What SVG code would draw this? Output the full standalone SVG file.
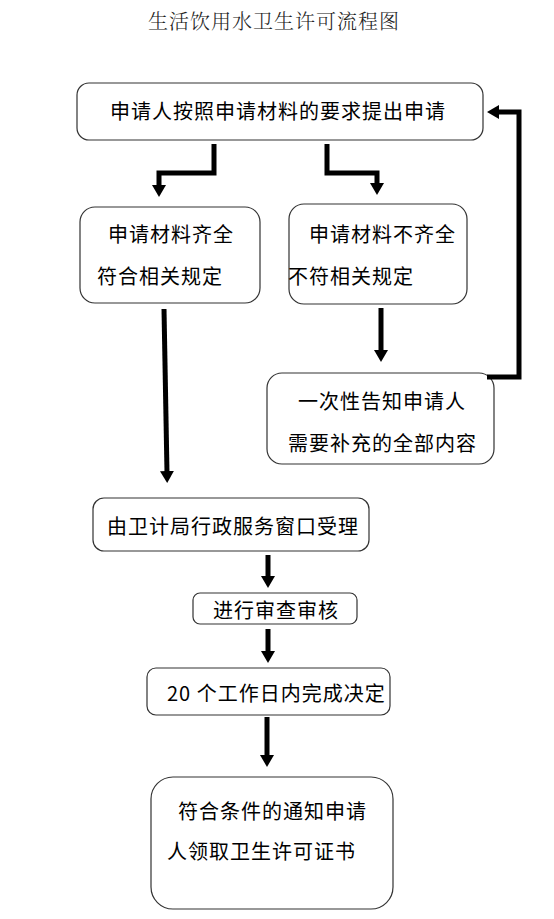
<svg xmlns="http://www.w3.org/2000/svg" width="554" height="919" viewBox="0 0 554 919">
<style>
.bg{fill:#fff}
.box{fill:#fff;stroke:#333;stroke-width:1.2}
.t{font-family:"Noto Sans CJK SC","Liberation Sans",sans-serif;font-size:20px;letter-spacing:1px;fill:#000;dominant-baseline:central}
.title{font-family:"Noto Serif CJK SC","Noto Sans CJK SC",serif;font-size:20px;font-weight:300;letter-spacing:1px;fill:#222;dominant-baseline:central}
.c{fill:none;stroke:#000;stroke-width:5;stroke-linejoin:miter;marker-end:url(#ah)}
</style>
<defs>
<marker id="ah" viewBox="0 0 12 14" refX="2" refY="7" markerWidth="12" markerHeight="14" markerUnits="userSpaceOnUse" orient="auto">
<path d="M0,0 L12,7 L0,14 Z" fill="#000"/>
</marker>
</defs>
<rect class="bg" x="0" y="0" width="554" height="919"/>
<text class="title" x="148" y="20">生活饮用水卫生许可流程图</text>
<g id="n1">
<rect class="box" x="77" y="83" width="406" height="57" rx="12"/>
<text class="t" x="110" y="110">申请人按照申请材料的要求提出申请</text>
</g>
<g id="n2">
<rect class="box" x="80" y="207" width="180" height="96" rx="15"/>
<text class="t" x="108" y="233">申请材料齐全</text>
<text class="t" x="97" y="275">符合相关规定</text>
</g>
<g id="n3">
<rect class="box" x="289" y="204" width="178" height="100" rx="15"/>
<text class="t" x="309" y="233">申请材料不齐全</text>
<text class="t" x="288" y="275">不符相关规定</text>
</g>
<g id="n4">
<rect class="box" x="267" y="373" width="227" height="91" rx="15"/>
<text class="t" x="298" y="400">一次性告知申请人</text>
<text class="t" x="288" y="442">需要补充的全部内容</text>
</g>
<g id="n5">
<rect class="box" x="93" y="498" width="276" height="53" rx="11"/>
<text class="t" x="107" y="525">由卫计局行政服务窗口受理</text>
</g>
<g id="n6">
<rect class="box" x="193" y="593" width="164" height="31" rx="7"/>
<text class="t" x="213" y="609">进行审查审核</text>
</g>
<g id="n7">
<rect class="box" x="147" y="668" width="243" height="47" rx="9"/>
<text class="t" x="167" y="692">20 个工作日内完成决定</text>
</g>
<g id="n8">
<rect class="box" x="151" y="777" width="242" height="132" rx="22"/>
<text class="t" x="178" y="810">符合条件的通知申请</text>
<text class="t" x="167" y="850">人领取卫生许可证书</text>
</g>
<g id="connectors">
<path class="c" d="M214,144 V173 H159 V187"/>
<path class="c" d="M327,144 V173 H377 V185"/>
<path class="c" d="M487,377 H519 V112 H497"/>
<path class="c" d="M381,308 V352"/>
<path class="c" d="M164,309 L167,473"/>
<path class="c" d="M268,555 V578"/>
<path class="c" d="M268,629 V653"/>
<path class="c" d="M267,717 V757"/>
</g>
</svg>
